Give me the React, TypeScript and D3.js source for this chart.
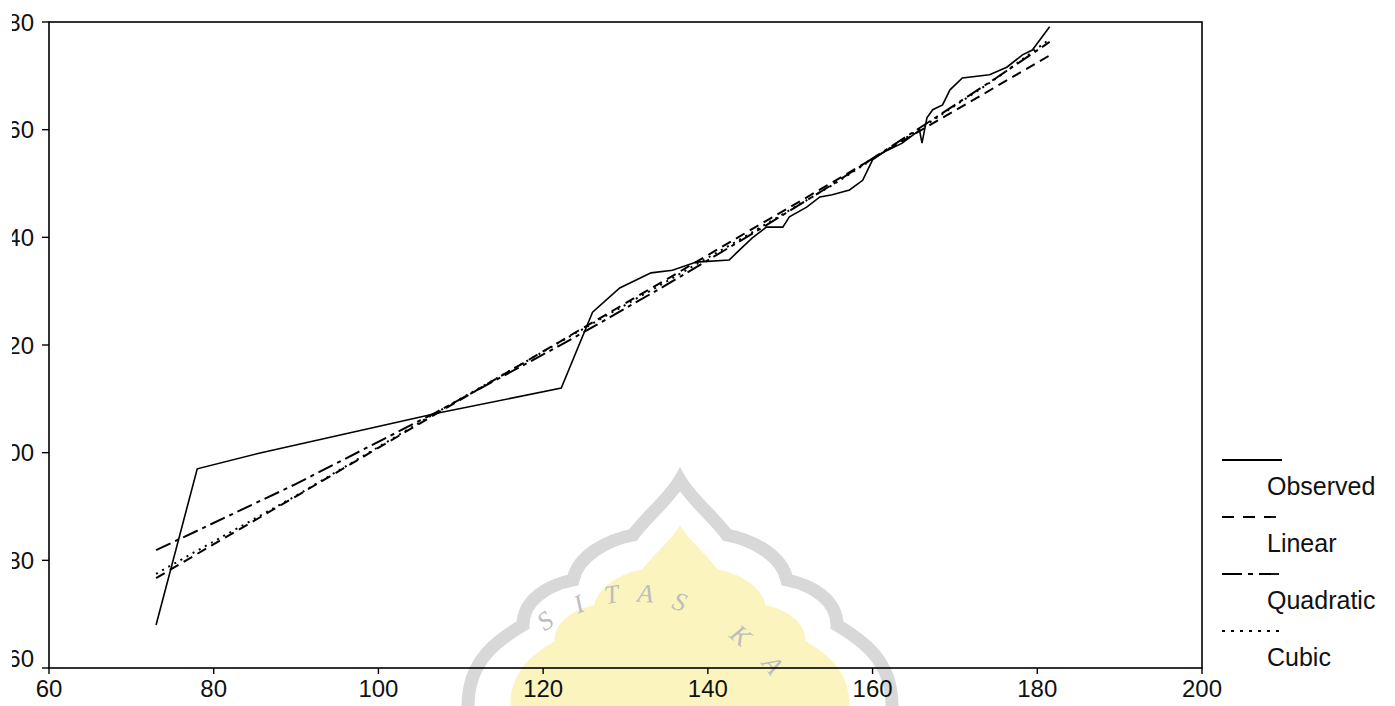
import React from 'react';
import * as d3 from 'd3';

const width = 1395;
const height = 706;
const plot = { left: 49, right: 1202, top: 22, bottom: 668 };

// observed series
const obsX = [73.0, 78.0, 85.5, 107.4, 122.2, 126.0, 129.3, 133.1, 135.7, 138.6, 142.6, 143.6, 145.4, 147.1, 149.1, 149.9, 152.0, 153.6, 155.1, 157.2, 158.8, 160.0, 161.2, 163.6, 165.7, 166.0, 166.6, 167.3, 168.5, 169.4, 170.9, 174.2, 176.3, 178.2, 179.4, 181.5];
const obsY = [68.0, 97.0, 99.9, 107.4, 112.0, 126.1, 130.6, 133.4, 133.9, 135.4, 135.8, 137.3, 139.9, 141.9, 141.9, 143.8, 145.6, 147.5, 147.9, 148.8, 150.6, 154.4, 155.7, 157.5, 159.9, 157.5, 162.2, 163.7, 164.6, 167.4, 169.6, 170.2, 171.6, 173.9, 174.8, 179.1];

// fitted curves
const fitX = [73, 78, 90, 107, 122, 126, 135, 145, 155, 165, 175, 181.5];
const linearY = [76.7, 81.2, 91.9, 107.2, 120.6, 124.2, 132.2, 141.2, 150.1, 159.1, 168.0, 173.8];
const quadraticY = [81.9, 85.5, 94.2, 107.5, 119.9, 123.3, 131.2, 140.3, 149.7, 159.6, 169.6, 176.3];
const cubicY = [77.5, 81.8, 92.0, 107.4, 120.5, 124.0, 131.8, 140.6, 149.6, 159.4, 169.5, 176.8];

const xTicks = [60, 80, 100, 120, 140, 160, 180, 200];
const yTicks = [60, 80, 100, 120, 140, 160, 180];

const seriesNames = ['Observed', 'Linear', 'Quadratic', 'Cubic'];
const dashes = [undefined, '10,6', '16,5,4,5', '2,5'];
const legendDashes = [undefined, '12,9', '20,6,5,6', '3,6'];

const font = '"Liberation Sans", Arial, sans-serif';

// watermark letters
const wmLetters = ['S', 'I', 'T', 'A', 'S', 'K', 'A'];

const App = () => {
  const x = d3.scaleLinear().domain([60, 200]).range([plot.left, plot.right]);
  const y = d3.scaleLinear().domain([60, 180]).range([plot.bottom, plot.top]);

  const line = d3.line<[number, number]>().x(d => x(d[0])).y(d => y(d[1]));
  const obs = line(obsX.map((v, i) => [v, obsY[i]]));
  const fits = [linearY, quadraticY, cubicY].map(ys => line(fitX.map((v, i) => [v, ys[i]])));

  const wmPath = 'M 468 706 C 468 660, 498 640, 523 625 C 523 600, 548 585, 573 580 C 578 555, 608 540, 633 535 C 648 515, 668 500, 680 480 C 692 500, 712 515, 727 535 C 752 540, 782 555, 787 580 C 812 585, 837 600, 837 625 C 862 640, 892 660, 892 706';
  const wmPos = [[550, 628, -35], [582, 612, -22], [613, 603, -10], [645, 602, 4], [677, 610, 18], [735, 642, 40], [766, 670, 52]];

  return (
    <svg width={width} height={height} style={{ position: 'absolute', left: 0, top: 0, background: '#fff' }}>
      <defs>
        <clipPath id="crop">
          <rect x={12} y={0} width={width} height={height} />
        </clipPath>
      </defs>

      {/* watermark */}
      <g>
        <path d={wmPath} fill="#fff" stroke="#d8d8d8" strokeWidth={13} />
        <path d={wmPath} transform="translate(680,706) scale(0.8) translate(-680,-706)" fill="#fbf4be" stroke="none" />
        {wmLetters.map((l, i) => (
          <text key={i} x={wmPos[i][0]} y={wmPos[i][1]} transform={`rotate(${wmPos[i][2]},${wmPos[i][0]},${wmPos[i][1]})`}
            fontFamily='"Liberation Serif", serif' fontStyle="italic" fontSize={26} fill="#bdbdbd" textAnchor="middle">{l}</text>
        ))}
      </g>

      {/* frame */}
      <rect x={plot.left} y={plot.top} width={plot.right - plot.left} height={plot.bottom - plot.top} fill="none" stroke="#000" strokeWidth={1.6} />

      {xTicks.map(t => (
        <g key={t} transform={`translate(${x(t)},0)`}>
          <line y1={plot.bottom} y2={plot.bottom + 6} stroke="#000" strokeWidth={1.4} />
          <text y={697} textAnchor="middle" fontFamily={font} fontSize={24} fill="#111">{t}</text>
        </g>
      ))}
      <g clipPath="url(#crop)">
        {yTicks.map(t => (
          <g key={t} transform={`translate(0,${y(t)})`}>
            <line x1={plot.left - 7} x2={plot.left} stroke="#000" strokeWidth={1.4} />
            <text x={34} dy={t === 60 ? '-0.05em' : '0.36em'} textAnchor="end" fontFamily={font} fontSize={24} fill="#111">{t}</text>
          </g>
        ))}
      </g>

      {/* curves */}
      {fits.map((d, i) => (
        <path key={i} d={d || ''} fill="none" stroke="#000" strokeWidth={2} strokeDasharray={dashes[i + 1]} />
      ))}
      <path d={obs || ''} fill="none" stroke="#000" strokeWidth={1.6} />

      {/* legend */}
      {seriesNames.map((name, i) => (
        <g key={name} transform={`translate(1222,${460 + i * 57})`}>
          <line x1={0} x2={60} stroke="#000" strokeWidth={1.8} strokeDasharray={legendDashes[i]} />
          <text x={45} y={35} fontFamily={font} fontSize={25} fill="#111">{name}</text>
        </g>
      ))}
    </svg>
  );
};

export default App;
